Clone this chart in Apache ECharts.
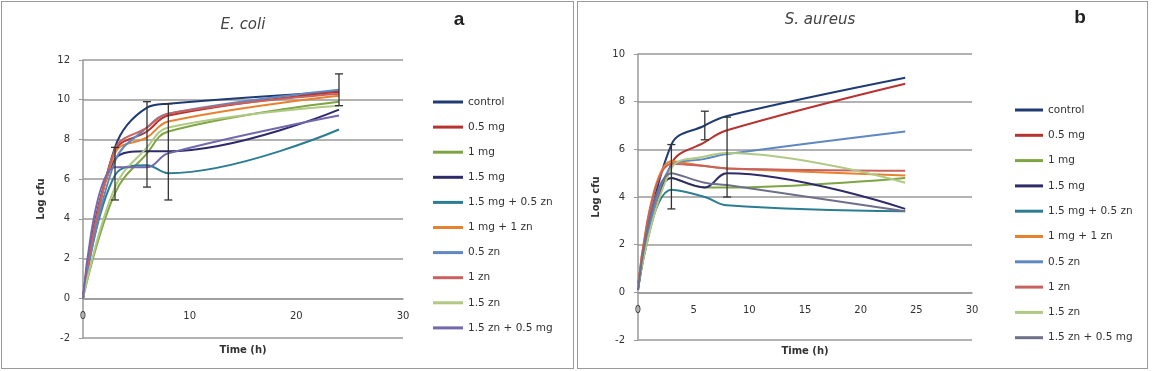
<!DOCTYPE html>
<html>
<head>
<meta charset="utf-8">
<script src="https://cdn.jsdelivr.net/npm/echarts@6/dist/echarts.min.js"></script>
<style>
    body { margin: 0; background: #fff; }
    .panel { position: absolute; top: 1px; height: 366px; border: 1px solid #9a9a9a; }
    #chart-a { left: 1px; width: 571px; }
    #chart-b { left: 577px; width: 569px; }
</style>
</head>
<body>
<div id="chart-a" class="panel"></div>
<div id="chart-b" class="panel"></div>
<script>
    // sampling times (h)
    const hours = [0, 3, 6, 8, 24]
    const names = ['control', '0.5 mg', '1 mg', '1.5 mg', '1.5 mg + 0.5 zn',
        '1 mg + 1 zn', '0.5 zn', '1 zn', '1.5 zn', '1.5 zn + 0.5 mg']

    // E. coli (log cfu)
    const ecControl = [0, 7.6, 9.6, 9.8, 10.4]
    const ec05mg = [0, 7.4, 8.4, 9.2, 10.4]
    const ec1mg = [0, 5.3, 7.3, 8.4, 9.9]
    const ec15mg = [0, 7.0, 7.4, 7.4, 9.5]
    const ec15mg05zn = [0, 6.2, 6.7, 6.3, 8.5]
    const ec1mg1zn = [0, 7.3, 8.1, 8.9, 10.2]
    const ec05zn = [0, 6.9, 8.6, 9.3, 10.5]
    const ec1zn = [0, 7.5, 8.6, 9.3, 10.3]
    const ec15zn = [0, 5.6, 7.6, 8.6, 9.7]
    const ec15zn05mg = [0, 6.6, 6.6, 7.3, 9.2]
    const ecErrX = [3, 6, 8, 24]
    const ecErrLow = [4.95, 5.6, 4.95, 9.7]
    const ecErrHigh = [7.6, 9.9, 9.8, 11.3]

    // S. aureus (log cfu)
    const saControl = [0.3, 6.2, 7.0, 7.4, 9.0]
    const sa05mg = [0.2, 5.4, 6.3, 6.8, 8.75]
    const sa1mg = [0.2, 4.8, 4.4, 4.4, 4.8]
    const sa15mg = [0.1, 4.8, 4.4, 5.0, 3.5]
    const sa15mg05zn = [0.1, 4.3, 4.0, 3.65, 3.4]
    const sa1mg1zn = [0.2, 5.5, 5.3, 5.2, 4.9]
    const sa05zn = [0.2, 5.3, 5.6, 5.8, 6.75]
    const sa1zn = [0.2, 5.4, 5.3, 5.2, 5.1]
    const sa15zn = [0.2, 5.2, 5.7, 5.85, 4.6]
    const sa15zn05mg = [0.1, 5.0, 4.6, 4.5, 3.4]
    const saErrX = [3, 6, 8]
    const saErrLow = [3.5, 6.4, 4.0]
    const saErrHigh = [6.2, 7.6, 7.35]

    const colorsA = ['#1F3B73', '#B83230', '#7FA443', '#2E2B6B', '#2D7D92',
        '#E8812F', '#5F87C2', '#C9625E', '#B0C985', '#7468AD']
    const colorsB = ['#1F3B73', '#B83230', '#7FA443', '#2E2B6B', '#2D7D92',
        '#E8812F', '#5F87C2', '#C9625E', '#B0C985', '#6E7089']

    function drawPanel(el, cfg){
        let chart = echarts.init(document.getElementById(el))
        let series = cfg.values.map((vals, i) => ({
            name: names[i],
            type: 'line',
            smooth: 0.4,
            symbol: 'none',
            data: hours.map((h, j) => [h, vals[j]]),
            lineStyle: { width: 2, color: cfg.colors[i] },
            itemStyle: { color: cfg.colors[i] }
        }))
        // error bars
        series.push({
            type: 'custom',
            name: 'err',
            z: 5,
            data: cfg.errX.map((x, i) => [x, cfg.errLow[i], cfg.errHigh[i]]),
            encode: { x: 0, y: [1, 2] },
            renderItem: (params, api) => {
                let top = api.coord([api.value(0), api.value(2)])
                let bot = api.coord([api.value(0), api.value(1)])
                let s = { stroke: '#333', lineWidth: 1.3 }
                return {
                    type: 'group',
                    children: [
                        { type: 'line', shape: { x1: top[0], y1: top[1], x2: bot[0], y2: bot[1] }, style: s },
                        { type: 'line', shape: { x1: top[0] - 4, y1: top[1], x2: top[0] + 4, y2: top[1] }, style: s },
                        { type: 'line', shape: { x1: bot[0] - 4, y1: bot[1], x2: bot[0] + 4, y2: bot[1] }, style: s }
                    ]
                }
            }
        })
        // x axis sits on y = 0, i.e. 2 units above the bottom of the grid
        let zeroShift = -cfg.grid.height * 2 / (cfg.yMax + 2)
        let axisText = { fontFamily: 'DejaVu Sans', fontSize: 10, color: '#333' }
        let options = {
            animation: false,
            grid: Object.assign({ containLabel: false, outerBoundsMode: 'none' }, cfg.grid),
            graphic: [
                { type: 'text', x: cfg.title[1], y: cfg.title[2],
                  style: { text: cfg.title[0], font: 'italic 15px "DejaVu Sans"', fill: '#444', align: 'center', verticalAlign: 'middle' } },
                { type: 'text', x: cfg.tag[1], y: cfg.tag[2],
                  style: { text: cfg.tag[0], font: 'bold 19px "Liberation Sans"', fill: '#222', align: 'center', verticalAlign: 'middle' } }
            ],
            legend: {
                orient: 'vertical',
                left: cfg.legend[0],
                top: cfg.legend[1],
                itemWidth: cfg.legend[2],
                itemHeight: 3,
                itemGap: cfg.legend[3],
                icon: 'rect',
                selectedMode: false,
                textStyle: { fontFamily: 'DejaVu Sans', fontSize: 10.5, color: '#333', lineHeight: 14 },
                data: names
            },
            xAxis: {
                type: 'value',
                min: 0,
                max: 30,
                interval: cfg.xInterval,
                offset: zeroShift,
                name: 'Time (h)',
                nameLocation: 'middle',
                nameGap: cfg.xNameGap,
                nameTextStyle: { fontFamily: 'DejaVu Sans', fontSize: 10, fontWeight: 'bold', color: '#333' },
                axisLine: { onZero: false, lineStyle: { color: '#999', width: 1.5 } },
                axisTick: { show: false },
                axisLabel: Object.assign({ margin: 13 }, axisText),
                splitLine: { show: false }
            },
            yAxis: {
                type: 'value',
                min: -2,
                max: cfg.yMax,
                interval: 2,
                name: 'Log cfu',
                nameLocation: 'middle',
                nameGap: 33,
                nameTextStyle: { fontFamily: 'DejaVu Sans', fontSize: 10, fontWeight: 'bold', color: '#333' },
                axisLine: { show: true, lineStyle: { color: '#999', width: 1.5 } },
                axisTick: { show: true, length: 4, lineStyle: { color: '#999' } },
                axisLabel: Object.assign({ margin: 13 }, axisText),
                splitLine: { show: true, lineStyle: { color: '#999', width: 1.5 } }
            },
            series: series
        }
        chart.setOption(options)
    }

    drawPanel('chart-a', {
        values: [ecControl, ec05mg, ec1mg, ec15mg, ec15mg05zn, ec1mg1zn, ec05zn, ec1zn, ec15zn, ec15zn05mg],
        colors: colorsA,
        errX: ecErrX, errLow: ecErrLow, errHigh: ecErrHigh,
        grid: { left: 81, top: 58, width: 320, height: 278 },
        title: ['E. coli', 241, 23],
        tag: ['a', 457, 18],
        legend: [426, 88, 30, 11.1],
        xInterval: 10,
        xNameGap: 47,
        yMax: 12
    })

    drawPanel('chart-b', {
        values: [saControl, sa05mg, sa1mg, sa15mg, sa15mg05zn, sa1mg1zn, sa05zn, sa1zn, sa15zn, sa15zn05mg],
        colors: colorsB,
        errX: saErrX, errLow: saErrLow, errHigh: saErrHigh,
        grid: { left: 60, top: 52, width: 334, height: 286 },
        title: ['S. aureus', 242, 18],
        tag: ['b', 502, 16],
        legend: [432, 96, 28, 11.3],
        xInterval: 5,
        xNameGap: 54,
        yMax: 10
    })
</script>
</body>
</html>
